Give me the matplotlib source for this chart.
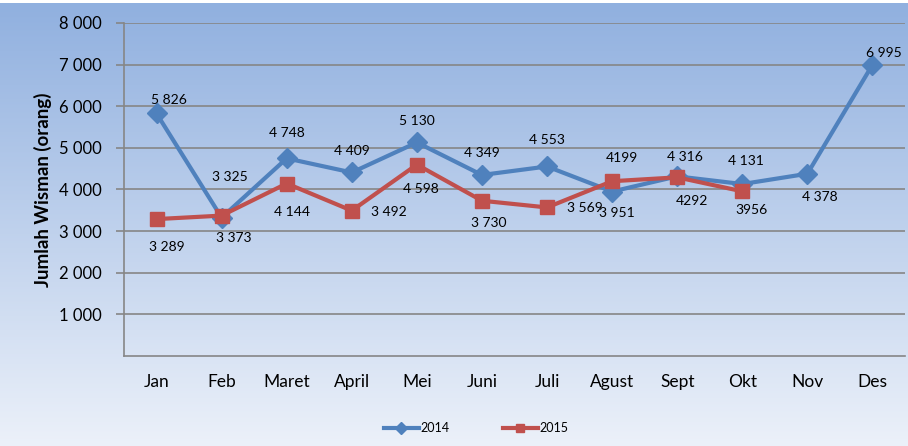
import matplotlib
matplotlib.use("Agg")
import matplotlib.pyplot as plt
from matplotlib.lines import Line2D
import numpy as np

months = ["Jan", "Feb", "Maret", "April", "Mei", "Juni", "Juli",
	"Agust", "Sept", "Okt", "Nov", "Des"]
wisman_2014 = [5826, 3325, 4748, 4409, 5130, 4349, 4553, 3951, 4316, 4131, 4378, 6995]
wisman_2015 = [3289, 3373, 4144, 3492, 4598, 3730, 3569, 4199, 4292, 3956]
labels_2014 = ["5 826", "3 325", "4 748", "4 409", "5 130", "4 349", "4 553",
	"3 951", "4 316", "4 131", "4 378", "6 995"]
labels_2015 = ["3 289", "3 373", "4 144", "3 492", "4 598", "3 730", "3 569",
	"4199", "4292", "3956"]
yticks = [1000, 2000, 3000, 4000, 5000, 6000, 7000, 8000]

# label offsets in pixels (dx, dy) from each point
off_2014 = [(12, 13), (8, 41), (0, 25), (0, 21), (0, 21), (0, 22), (0, 26),
	(5, -21), (8, 19), (4, 23), (12, -23), (11, 12)]
off_2015 = [(10, -28), (12, -22), (5, -28), (37, -1), (4, -24), (7, -22),
	(38, -1), (10, 23), (15, -24), (9, -19)]

blue = "#4f81bd"
red = "#c0504d"
plt.rcParams['font.family'] = ['Lato', 'DejaVu Sans']

fig = plt.figure(figsize=(9.08, 4.46), dpi=100)

# background gradient
bg = fig.add_axes([0, 0, 1, 0.994], zorder=-10)
top = np.array([0.565, 0.690, 0.875])
bot = np.array([0.925, 0.945, 0.978])
t = np.linspace(0, 1, 256)[:, None]
grad = top * (1 - t) + bot * t
bg.imshow(grad[:, None, :], aspect="auto", extent=[0, 1, 0, 1])
bg.axis("off")

ax = fig.add_axes([124/908., 1 - 356/446., 781/908., 333/446.])
ax.patch.set_alpha(0)

x = np.arange(len(months))
ax.plot(x, wisman_2014, color=blue, lw=3, marker="D", ms=10, zorder=3)
ax.plot(x[:len(wisman_2015)], wisman_2015, color=red, lw=3, marker="s", ms=10, zorder=4)

for i, v in enumerate(wisman_2014):
	ax.annotate(labels_2014[i], (x[i], v), xytext=off_2014[i],
		textcoords="offset pixels", ha="center", va="center", fontsize=10)
for i, v in enumerate(wisman_2015):
	ax.annotate(labels_2015[i], (x[i], v), xytext=off_2015[i],
		textcoords="offset pixels", ha="center", va="center", fontsize=10)

ax.set_xlim(-0.5, 11.5)
ax.set_ylim(0, 8000)
ax.set_yticks(yticks)
ax.set_yticklabels(["%d 000" % (v // 1000) for v in yticks], fontsize=12)
ax.set_xticks(x)
ax.set_xticklabels(months, fontsize=12.5)
ax.tick_params(axis="x", length=0, pad=13)
ax.tick_params(axis="y", length=6, width=1.2, color="#868686", pad=10)
ax.grid(axis="y", color="#868686", lw=1.2)
ax.set_axisbelow(True)
for s in ["top", "right"]:
	ax.spines[s].set_visible(False)
for s in ["left", "bottom"]:
	ax.spines[s].set_color("#868686")
	ax.spines[s].set_linewidth(1.2)
ax.set_ylabel("Jumlah Wisman (orang)", fontsize=13.5, fontweight="bold", labelpad=5)

handles = [Line2D([], [], color=blue, lw=3, marker="D", ms=6),
	Line2D([], [], color=red, lw=3, marker="s", ms=6)]
fig.legend(handles, ["2014", "2015"], loc="center", bbox_to_anchor=(476/908., 1 - 428/446.),
	ncol=2, frameon=False, fontsize=9, handlelength=2.8, handletextpad=0.1,
	columnspacing=4.3)

fig.savefig("out.png", dpi=100)
